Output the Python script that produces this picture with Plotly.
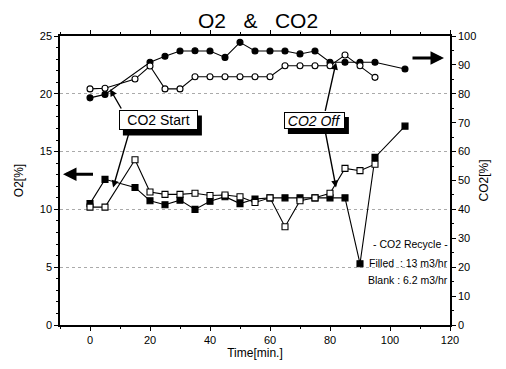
import plotly.graph_objects as go

# ---- data ----
t_co2_filled = [0, 5, 20, 25, 30, 35, 40, 45, 50, 55, 60, 65, 70, 75, 80, 85, 90, 95, 105]
co2_filled = [78.6, 79.8, 90.9, 93.0, 94.8, 94.9, 94.8, 92.6, 97.8, 94.8, 94.8, 94.8, 93.8, 94.8, 90.9, 90.9, 90.9, 90.9, 88.6]

t_co2_blank = [0, 5, 15, 20, 25, 30, 35, 40, 45, 50, 55, 60, 65, 70, 75, 80, 85, 90, 95]
co2_blank = [81.7, 81.9, 85.1, 89.6, 81.7, 81.7, 85.9, 85.9, 85.9, 85.9, 85.9, 85.9, 89.7, 89.7, 89.7, 89.7, 93.4, 89.7, 85.7]

t_o2_filled = [0, 5, 15, 20, 25, 30, 35, 40, 45, 50, 55, 60, 65, 70, 75, 80, 85, 90, 95, 105]
o2_filled = [10.5, 12.6, 11.9, 10.75, 10.4, 10.8, 10.0, 10.7, 11.1, 10.5, 10.9, 11.0, 11.0, 11.0, 11.0, 11.0, 11.0, 5.3, 14.5, 17.2]

t_o2_blank = [0, 5, 15, 20, 25, 30, 35, 40, 45, 50, 55, 60, 65, 70, 75, 80, 85, 90, 95]
o2_blank = [10.2, 10.2, 14.3, 11.5, 11.3, 11.3, 11.4, 11.2, 11.25, 11.1, 10.6, 11.0, 8.5, 10.75, 11.0, 11.4, 13.55, 13.35, 13.9]

x_ticks = [0, 20, 40, 60, 80, 100, 120]
o2_ticks = [0, 5, 10, 15, 20, 25]
co2_ticks = [0, 10, 20, 30, 40, 50, 60, 70, 80, 90, 100]

FONT = "Liberation Sans, Arial, sans-serif"
X_RANGE = [-10, 120]
Y_RANGE = [0, 25]
# page body has an 8px margin, so the figure is reduced to fit the window
L, R, T, B = 52, 56, 28, 44
W, H = 498, 361
px_per_x = (W - L - R) / (X_RANGE[1] - X_RANGE[0])
px_per_y = (H - T - B) / (Y_RANGE[1] - Y_RANGE[0])

fig = go.Figure()

def line(x, y, filled, symbol, axis):
    return go.Scatter(
        x=x, y=y, mode="lines+markers", yaxis=axis, showlegend=False,
        line=dict(color="black", width=1.1),
        marker=dict(symbol=symbol, size=6,
                    color="black" if filled else "white",
                    line=dict(color="black", width=1.1)),
    )

fig.add_trace(line(t_o2_filled, o2_filled, True, "square", "y"))
fig.add_trace(line(t_o2_blank, o2_blank, False, "square", "y"))
fig.add_trace(line(t_co2_filled, co2_filled, True, "circle", "y2"))
fig.add_trace(line(t_co2_blank, co2_blank, False, "circle", "y2"))

anns = []
shapes = []
# annotation pointer lines (tail -> tip)
for (tx, ty, hx, hy) in [
    (10.7, 18.6, 6.7, 20.4),
    (13.3, 16.9, 7.7, 11.9),
    (78.3, 18.4, 82.0, 22.7),
    (78.3, 16.9, 82.0, 11.9),
]:
    anns.append(dict(x=hx, y=hy, ax=tx, ay=ty, xref="x", yref="y", axref="x", ayref="y",
                     showarrow=True, arrowhead=2, arrowsize=1, arrowwidth=1.4,
                     arrowcolor="black", text=""))

# boxes with shadow
for (bx, by, txt, ital, w, h) in [(22.8, 17.7, "CO2 Start", False, 77, 18),
                                  (74.8, 17.7, "CO2 Off", True, 59, 15)]:
    label = f"<i>{txt}</i>" if ital else txt
    dx0 = (-w / 2 - 1 + 4) / px_per_x
    dx1 = (w / 2 + 1 + 4) / px_per_x
    dy0 = (-h / 2 - 1 - 5) / px_per_y
    dy1 = (h / 2 + 1 - 5) / px_per_y
    shapes.append(dict(type="rect", xref="x", yref="y",
                       x0=bx + dx0, x1=bx + dx1, y0=by + dy0, y1=by + dy1,
                       fillcolor="black", line=dict(color="black", width=0), layer="above"))
    anns.append(dict(x=bx, y=by, xref="x", yref="y", text=label, showarrow=False,
                     width=w, height=h,
                     bgcolor="white", bordercolor="black", borderwidth=1,
                     borderpad=0, font=dict(family=FONT, size=14, color="black")))

# axis-indicator arrows
anns.append(dict(x=-9, y=13.05, ax=1.5, ay=13.05, xref="x", yref="y", axref="x", ayref="y",
                 showarrow=True, arrowhead=2, arrowsize=0.9, arrowwidth=3, arrowcolor="black", text=""))
anns.append(dict(x=118, y=23.1, ax=107, ay=23.1, xref="x", yref="y", axref="x", ayref="y",
                 showarrow=True, arrowhead=2, arrowsize=0.9, arrowwidth=3, arrowcolor="black", text=""))

# recycle text
for (yy, txt) in [(7.0, "- CO2 Recycle -"), (5.35, "Filled  : 13 m3/hr"), (3.85, "Blank : 6.2 m3/hr")]:
    anns.append(dict(x=120, y=yy, xref="x", yref="y", text=txt, showarrow=False,
                     xanchor="right", font=dict(family=FONT, size=10.5, color="black")))

fig.update_layout(
    width=W, height=H,
    margin=dict(l=L, r=R, t=T, b=B, autoexpand=False),
    paper_bgcolor="white", plot_bgcolor="white",
    font=dict(family=FONT, color="black", size=11),
    title=dict(text="O2   &   CO2", x=0.502, xanchor="center", xref="container",
               y=0.965, yanchor="middle", yref="container",
               font=dict(family=FONT, size=21, color="black")),
    annotations=anns,
    shapes=shapes,
    xaxis=dict(range=X_RANGE, tickvals=x_ticks, showgrid=False, zeroline=False, automargin=False,
               showline=True, linecolor="black", linewidth=1.5, mirror="ticks",
               ticks="outside", ticklen=4, tickcolor="black",
               minor=dict(dtick=10, ticks="outside", ticklen=2, tickcolor="black"),
               title=dict(text="Time[min.]", font=dict(size=12), standoff=2)),
    yaxis=dict(range=Y_RANGE, tickvals=o2_ticks, showgrid=True, gridcolor="#aaaaaa",
               griddash="dot", gridwidth=1, zeroline=False, automargin=False,
               showline=True, linecolor="black", linewidth=1.5,
               ticks="outside", ticklen=4, tickcolor="black",
               minor=dict(dtick=1, ticks="outside", ticklen=2, tickcolor="black"),
               title=dict(text="O2[%]", font=dict(size=12), standoff=14)),
    yaxis2=dict(range=[0, 100], tickvals=co2_ticks, overlaying="y", side="right",
                showgrid=False, zeroline=False, automargin=False,
                showline=True, linecolor="black", linewidth=1.5,
                ticks="outside", ticklen=4, tickcolor="black",
                minor=dict(dtick=5, ticks="outside", ticklen=2, tickcolor="black"),
                title=dict(text="CO2[%]", font=dict(size=12), standoff=4)),
)

fig.write_html("out.html")
